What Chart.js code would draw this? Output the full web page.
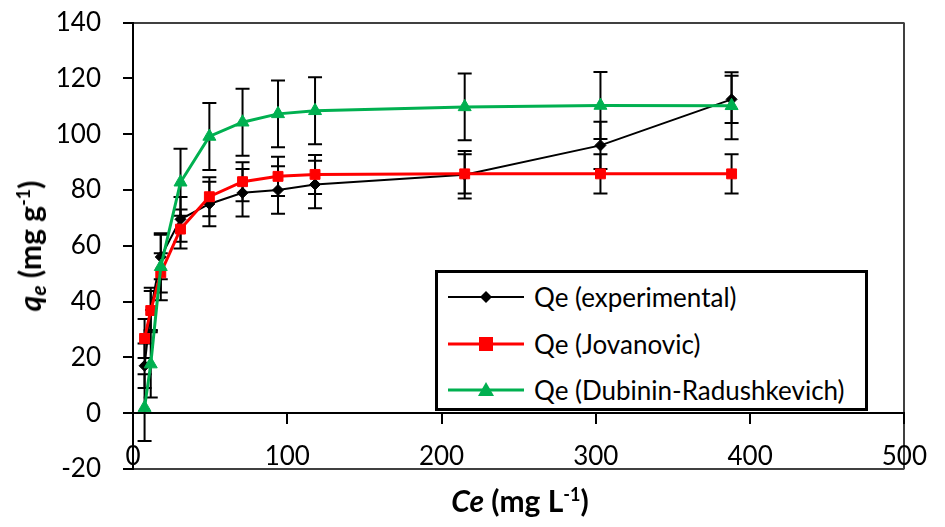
<!DOCTYPE html>
<html>
<head>
<meta charset="utf-8">
<script src="https://cdn.jsdelivr.net/npm/chart.js@4/dist/chart.umd.min.js"></script>
<style>
html,body{margin:0;padding:0;background:#fff;}
#wrap{position:relative;width:945px;height:527px;font-family:Lato,'Open Sans',sans-serif;color:#000;}
#c{position:absolute;left:0;top:0;}
.title{position:absolute;font-weight:bold;font-size:30px;white-space:nowrap;line-height:1;}
#ytitle{left:29px;top:246px;transform:translate(-50%,-50%) rotate(-90deg);}
#xtitle{left:520px;top:500px;transform:translate(-50%,-50%);}
sup{font-size:0.6em;vertical-align:0.6em;line-height:0;}
sub{font-size:0.7em;vertical-align:-0.25em;line-height:0;}
#legend{position:absolute;left:435px;top:270px;width:433px;height:141px;border:3px solid #000;box-sizing:border-box;background:#fff;}
.row{position:absolute;left:8px;height:40px;display:flex;align-items:center;font-size:26px;white-space:nowrap;}
.row svg{margin-right:8px;}
</style>
</head>
<body>
<div id="wrap">
<canvas id="c" width="945" height="527"></canvas>
<div id="ytitle" class="title"><i>q<sub>e</sub></i> (mg g<sup>-1</sup>)</div>
<div id="xtitle" class="title"><i>Ce</i> (mg L<sup>-1</sup>)</div>
<div id="legend"></div>
</div>
<script>
// ---- data ----
const ceValues        = [7.5, 11.5, 18, 30.8, 49.5, 71, 94, 118, 215, 303, 388];
const qeExperimental  = [17, 37, 56, 69.5, 75, 79, 80, 82, 85.5, 96, 112.5];
const qeJovanovic     = [26.8, 36.8, 50.3, 66, 77.6, 83, 84.9, 85.6, 85.8, 85.8, 85.8];
const qeDubinin       = [2, 17.6, 52.5, 82.8, 99.2, 104.3, 107.3, 108.4, 109.8, 110.3, 110.2];
const errExperimental = [8, 8, 8, 8, 8, 8.5, 8.5, 8.5, 8.5, 8.5, 8.5];
const errJovanovic    = [7, 7, 7, 7, 7, 7, 7, 7, 7, 7, 7];
const errDubinin      = [12, 12, 12, 12, 12, 12, 12, 12, 12, 12, 12];
const seriesNames     = ['Qe (experimental)', 'Qe (Jovanovic)', 'Qe (Dubinin-Radushkevich)'];
const xTicks          = [0, 100, 200, 300, 400, 500];
const yTicks          = [-20, 0, 20, 40, 60, 80, 100, 120, 140];

const seriesStyle = [
  {color:'#000000', width:2, point:'rectRot', radius:5.5},
  {color:'#FF0000', width:3, point:'rect', radius:7},
  {color:'#00B050', width:3, point:'triangle', radius:7.5}
];
const seriesValues = [qeExperimental, qeJovanovic, qeDubinin];
const seriesErrors = [errExperimental, errJovanovic, errDubinin];

const FONT = "Lato, 'Open Sans', sans-serif";

const datasets = seriesValues.map((vals, k) => ({
  label: seriesNames[k],
  data: ceValues.map((x, i) => ({x: x, y: vals[i]})),
  borderColor: seriesStyle[k].color,
  backgroundColor: seriesStyle[k].color,
  pointBackgroundColor: seriesStyle[k].color,
  pointBorderColor: seriesStyle[k].color,
  borderWidth: seriesStyle[k].width,
  pointStyle: seriesStyle[k].point,
  pointRadius: seriesStyle[k].radius,
  pointBorderWidth: 1,
  showLine: true,
  fill: false,
  tension: 0,
  order: 3 - k
}));

const errorBars = {
  id: 'errorBars',
  beforeDatasetsDraw(chart) {
    const ctx = chart.ctx, xs = chart.scales.x, ys = chart.scales.y;
    ctx.save();
    ctx.strokeStyle = '#000';
    ctx.lineWidth = 2;
    seriesValues.forEach((vals, k) => {
      vals.forEach((v, i) => {
        const px = xs.getPixelForValue(ceValues[i]);
        const pt = ys.getPixelForValue(v + seriesErrors[k][i]);
        const pb = ys.getPixelForValue(v - seriesErrors[k][i]);
        ctx.beginPath();
        ctx.moveTo(px, pt); ctx.lineTo(px, pb);
        ctx.moveTo(px - 7, pt); ctx.lineTo(px + 7, pt);
        ctx.moveTo(px - 7, pb); ctx.lineTo(px + 7, pb);
        ctx.stroke();
      });
    });
    ctx.restore();
  }
};

new Chart(document.getElementById('c'), {
  type: 'line',
  data: {datasets: datasets},
  plugins: [errorBars],
  options: {
    responsive: false,
    animation: false,
    devicePixelRatio: 1,
    layout: {padding: {left: 0, top: 22, right: 37, bottom: 58}},
    plugins: {legend: {display: false}, tooltip: {enabled: false}},
    scales: {
      x: {
        type: 'linear', min: 0, max: 500,
        position: {y: 0},
        afterBuildTicks: s => { s.ticks = xTicks.map(v => ({value: v})); },
        ticks: {color: '#000', font: {family: FONT, size: 26}, padding: 18, maxRotation: 0},
        grid: {
          color: c => (c.tick && c.tick.value === 500) ? '#404040' : 'rgba(0,0,0,0)',
          tickColor: '#000', tickLength: 10, lineWidth: 2
        },
        border: {color: '#000', width: 2}
      },
      y: {
        type: 'linear', min: -20, max: 140,
        afterBuildTicks: s => { s.ticks = yTicks.map(v => ({value: v})); },
        afterFit: s => { s.width = 133; },
        ticks: {color: '#000', font: {family: FONT, size: 26, lineHeight: 0.05}, padding: 22},
        grid: {
          color: c => (c.tick && (c.tick.value === 140 || c.tick.value === -20)) ? '#404040' : 'rgba(0,0,0,0)',
          tickColor: '#000', tickLength: 10, lineWidth: 2
        },
        border: {color: '#000', width: 2}
      }
    }
  }
});

// legend built from the same series arrays
const legend = document.getElementById('legend');
seriesNames.forEach((name, k) => {
  const st = seriesStyle[k];
  const row = document.createElement('div');
  row.className = 'row';
  row.style.top = (4 + k * 46.5) + 'px';
  let marker;
  if (st.point === 'rectRot') marker = `<polygon points="40,13 46,19 40,25 34,19" fill="${st.color}"/>`;
  else if (st.point === 'rect') marker = `<rect x="33" y="12" width="14" height="14" fill="${st.color}"/>`;
  else marker = `<polygon points="40,11 48,25 32,25" fill="${st.color}"/>`;
  row.innerHTML = `<svg width="80" height="38"><line x1="2" y1="19" x2="78" y2="19" stroke="${st.color}" stroke-width="${st.width}"/>${marker}</svg><span>${name}</span>`;
  legend.appendChild(row);
});
</script>
</body>
</html>
